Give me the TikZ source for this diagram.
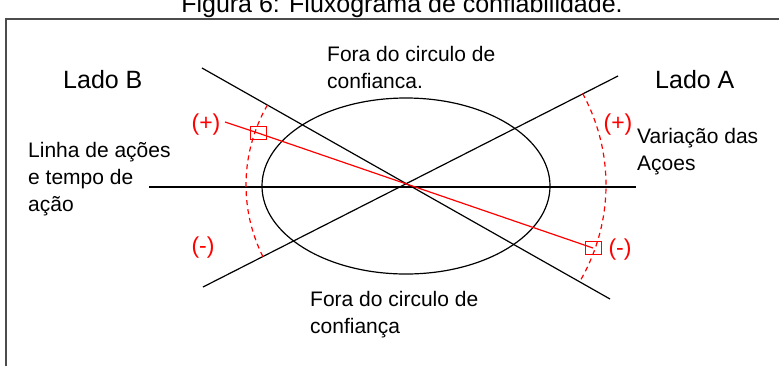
\documentclass[tikz,border=0pt]{standalone}
\usepackage{fontspec}
\setmainfont{Liberation Sans}
\usetikzlibrary{calc}

\begin{document}
\begin{tikzpicture}[x=1pt,y=-1pt,
  txt/.style={inner sep=0pt,align=left,font=\fontsize{21}{27}\selectfont},
  lado/.style={inner sep=0pt,font=\fontsize{25}{30}\selectfont},
  sinal/.style={inner sep=0pt,text=red,font=\fontsize{23}{28}\selectfont},
  eixo/.style={line width=1.2pt},
  tracejado/.style={red,line width=1.2pt,dash pattern=on 5pt off 4pt},
  quadro/.style={draw=red,line width=1pt,minimum width=16pt,minimum height=13pt,inner sep=0pt}]
\useasboundingbox (0,0) rectangle (779,365);
\clip (0,0) rectangle (779,365);

\coordinate (c) at (406,185);
\coordinate (h1) at (149,187);
\coordinate (h2) at (636,187);
\coordinate (d1) at (202,68);
\coordinate (d2) at (610,299);
\coordinate (a1) at (203,287);
\coordinate (a2) at (618,76);
\coordinate (r0) at (225,122);
\coordinate (fb) at (6,370);
\coordinate (ft) at (6,19);
\coordinate (fr) at (785,19);

\draw[line width=1.6pt,black!70] (fb) -- (ft) -- (fr);
\node (titulo) at (402,12) [anchor=base,font=\fontsize{25}{30}\selectfont] {Figura 6: Fluxograma de confiabilidade.};

\draw[eixo] (406,186) ellipse [x radius=144, y radius=88];
\draw[eixo] (h1) -- (h2);
\draw[eixo] (d1) -- (d2);
\draw[eixo] (a1) -- (a2);

\coordinate (arcB) at ($(c)+(210:160)$);
\coordinate (arcA) at ($(c)+(-28:200 and 195)$);
\draw[tracejado] (arcB) arc[start angle=210,end angle=153,radius=160];
\draw[tracejado] (arcA) arc[start angle=-28,end angle=29,x radius=200,y radius=195];

\node[quadro] (sqB) at (258,133) {};
\node[quadro] (sqA) at (593,248) {};
\draw[red,line width=1.2pt] (r0) -- (sqB.center) -- (sqA.center);

\node[lado] (ladoB) at (63,88) [anchor=base west] {Lado B};
\node[lado] (ladoA) at (655,88) [anchor=base west] {Lado A};
\node[txt] (foraCima) at (327,88) [anchor=base west] {Fora do circulo de\\confianca.};
\node[txt] (foraBaixo) at (310,333) [anchor=base west] {Fora do circulo de\\confiança};
\node[txt] (linha) at (28,211) [anchor=base west] {Linha de ações\\e tempo de\\ação};
\node[txt] (variacao) at (637,170) [anchor=base west] {Variação das\\Açoes};

\node[sinal] (maisB) at (206,125) {(+)};
\node[sinal] (menosB) at (203,248) {(-)};
\node[sinal] (maisA) at (618,125) {(+)};
\node[sinal] (menosA) at (620,250) {(-)};
\end{tikzpicture}
\end{document}
